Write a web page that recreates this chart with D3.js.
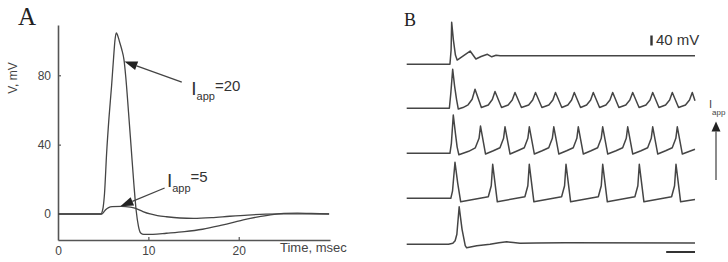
<!DOCTYPE html>
<html><head><meta charset="utf-8">
<script src="https://cdn.jsdelivr.net/npm/d3@7"></script>
<style>body{margin:0;background:#fff}svg{display:block}</style>
</head><body>
<svg id="c" width="728" height="262"></svg>
<script>
// ---------- Panel A data (time ms, voltage mV) ----------
const aXTicks = [0, 10, 20];
const aYTicks = [0, 40, 80];
const iapp20 = [[0,0],[4.75,0],[4.9,1.5],[5.0,4],[5.15,12],[5.38,35],[5.65,56],[5.93,74],[6.15,90],[6.3,100],[6.45,104.5],
  [6.6,103],[6.8,99.5],[7.05,95],[7.3,89],[7.5,79],[7.8,59],[8.1,38],[8.4,17],[8.65,2],[8.9,-7],[9.15,-11],[9.5,-11.8],[10.5,-11.7],[12,-11.1],
  [14,-10.2],[16,-8.8],[18,-6.6],[19.3,-5],[20.5,-3.4],[22,-1.8],[23.5,-0.5],[25,0.3],[26.5,0.5],[28,0.3],[30,0.1]];
const iapp5 = [[0,0],[4.85,0],[5.05,1],[5.3,2.6],[5.6,3.7],[6.0,4.2],[7.0,4.4],[8.0,4.0],[8.6,3.2],[9.4,1.4],[10.2,0],
  [11,-0.9],[12,-1.6],[13.5,-2.3],[15,-2.5],[17,-2.1],[19,-1.3],[21,-0.6],[23,-0.1],[25,0.1],[30,0]];
const aLabels = [
  {value:"20", tip:[7.35,88], tail:[13.7,76], at:[14.75,68.6]},
  {value:"5",  tip:[6.9,4.4], tail:[11.8,15], at:[12.05,15.6]}
];

// ---------- Panel B data (time units, mV relative to rest) ----------
const bTrace1 = [[0,0],[15.0,0],[15.4,57],[15.6,168],[16.2,97],[16.9,37],[17.5,17],[19.5,33],[22.0,53],[23.0,37],[24.0,21],
  [25.8,31],[28.0,40],[29.5,30],[31.0,36],[32.4,34],[35.8,34],[100,34]];
const bTrace2 = [[0,0],[14.8,0],[15.3,60],[15.95,156],[16.6,90],[17.3,35],[17.9,-3],[19.5,3],[21.3,14],[22.7,36],[23.7,76],
  [25.9,3],[28.3,13],[29.7,35],[30.63,67],
  [32.9,3],[35.2,13],[36.6,33],[37.57,63],
  [39.8,3],[42.3,13],[43.7,33],[44.68,63],
  [46.9,3],[49.3,13],[50.7,33],[51.61,63],
  [53.8,3],[55.9,13],[57.2,33],[58.13,63],
  [60.3,3],[62.4,13],[63.8,33],[64.72,63],
  [66.9,3],[69.1,13],[70.5,33],[71.45,63],
  [73.6,3],[76.0,13],[77.4,33],[78.39,63],
  [80.6,3],[83.0,13],[84.4,33],[85.33,63],
  [87.5,3],[89.8,13],[91.2,33],[92.13,63],
  [94.3,3],[96.7,13],[98.1,33],[99.06,63],[100,30]];
const bTrace3 = [[0,0],[15.0,0],[15.5,40],[16.16,153],[16.9,80],[17.5,25],[18.1,-6],[21.5,8],[23.8,22],[25.1,60],[25.6,109],
  [27.35,-3],[30.05,10],[32.35,22],[33.6,60],[34.1,106],
  [35.85,-3],[38.48,10],[40.78,22],[42.03,60],[42.53,106],
  [44.28,-3],[46.97,10],[49.27,22],[50.52,60],[51.02,106],
  [52.77,-3],[55.47,10],[57.77,22],[59.02,60],[59.52,106],
  [61.27,-3],[63.93,10],[66.23,22],[67.48,60],[67.98,106],
  [69.73,-3],[72.61,10],[74.91,22],[76.16,60],[76.66,106],
  [78.41,-3],[81.28,10],[83.58,22],[84.83,60],[85.33,106],
  [87.08,-3],[89.81,10],[92.11,22],[93.36,60],[93.86,106],
  [95.61,-3],[100,16]];
const bTrace4 = [[0,0],[15.3,0],[15.9,30],[16.75,144],[17.7,60],[18.73,-14],[28.3,6],[29.33,50],[29.83,136],
  [31.43,-14],[40.99,6],[42.02,50],[42.52,136],
  [44.12,-14],[53.73,6],[54.76,50],[55.26,136],
  [56.86,-14],[66.46,6],[67.49,50],[67.99,136],
  [69.59,-14],[79.15,6],[80.18,50],[80.68,136],
  [82.28,-14],[91.88,6],[92.91,50],[93.41,136],
  [95.01,-14],[100,-5]];
const bTrace5 = [[0,0],[14.5,0],[16.0,4],[16.8,14],[17.4,40],[18.2,150],[19.2,60],[20.3,-5],[20.8,-14],[24.3,-6],[28.9,0],
  [32,6],[34.7,10],[37,7],[39.3,4],[45,5],[55,6],[100,5]];
const bTraces = [bTrace1, bTrace2, bTrace3, bTrace4, bTrace5];
const bScaleV = 40;   // mV scale bar
const bScaleT = 10;   // time scale bar

// ---------- Drawing ----------
const svg = d3.select("#c");
const ink = "#454545";
const font = "Liberation Sans, Arial, sans-serif";

// Panel A
const xA = d3.scaleLinear().domain([0, 30.1]).range([58, 330]);
const yA = d3.scaleLinear().domain([-15, 109]).range([240, 25]);
const gA = svg.append("g");

const axX = gA.append("g").attr("transform", "translate(0,240)")
  .call(d3.axisBottom(xA).tickValues(aXTicks).tickSizeInner(-3).tickSizeOuter(0).tickPadding(6));
const axY = gA.append("g").attr("transform", "translate(58,0)")
  .call(d3.axisLeft(yA).tickValues(aYTicks).tickSizeInner(-3).tickSizeOuter(0).tickPadding(7));
[axX, axY].forEach(a => {
  a.select(".domain").attr("stroke", "#555").attr("stroke-width", 1.6);
  a.selectAll(".tick line").attr("stroke", "#555").attr("stroke-width", 1.2);
  a.selectAll(".tick text").attr("fill", "#444").style("font-family", font).style("font-size", "12px");
});
axY.selectAll(".tick").filter(d => d === 0).select("line").remove();
axX.selectAll(".tick").filter(d => d === 0).select("line").remove();

gA.append("text").attr("transform", "translate(17,78) rotate(-90)").attr("text-anchor", "middle")
  .style("font-family", font).style("font-size", "12px").attr("fill", "#444").text("V, mV");
gA.append("text").attr("x", 280).attr("y", 252).style("font-family", font).style("font-size", "13px")
  .attr("fill", "#444").text("Time, msec");
svg.append("text").attr("x", 18).attr("y", 25).style("font-family", "Liberation Serif, Times New Roman, serif")
  .style("font-size", "25px").attr("fill", "#222").text("A");

const lineA = d3.line().x(d => xA(d[0])).y(d => yA(d[1])).curve(d3.curveMonotoneX);
[iapp20, iapp5].forEach(s => gA.append("path").attr("d", lineA(s)).attr("fill", "none")
  .attr("stroke", ink).attr("stroke-width", 1.3));

function arrow(g, x1, y1, x2, y2, len, hw, color, sw) {
  const dx = x2 - x1, dy = y2 - y1, L = Math.hypot(dx, dy);
  const ux = dx / L, uy = dy / L;
  const bx = x2 - ux * len, by = y2 - uy * len;
  g.append("line").attr("x1", x1).attr("y1", y1).attr("x2", bx).attr("y2", by)
    .attr("stroke", color).attr("stroke-width", sw);
  g.append("path").attr("d", `M${x2},${y2}L${bx - uy * hw},${by + ux * hw}L${bx + uy * hw},${by - ux * hw}Z`)
    .attr("fill", "#222");
}
aLabels.forEach(l => {
  arrow(gA, xA(l.tail[0]), yA(l.tail[1]), xA(l.tip[0]), yA(l.tip[1]), 13, 4.5, "#444", 1.3);
  const t = gA.append("text").attr("x", xA(l.at[0])).attr("y", yA(l.at[1]))
    .style("font-family", font).attr("fill", "#333");
  t.append("tspan").style("font-size", "19px").text("I");
  t.append("tspan").style("font-size", "11px").attr("dy", 5).text("app");
  t.append("tspan").style("font-size", "15px").attr("dy", -9.5).text("=" + l.value);
});

// Panel B
const xB = d3.scaleLinear().domain([0, 100]).range([406.7, 695]);
const bBase = [64.3, 108.3, 153.3, 198.3, 244.3];
const gB = svg.append("g");
svg.append("text").attr("x", 404).attr("y", 25.5).style("font-family", "Liberation Serif, Times New Roman, serif")
  .style("font-size", "18px").attr("fill", "#222").text("B");
bTraces.forEach((tr, i) => {
  const yB = d3.scaleLinear().domain([0, 40]).range([bBase[i], bBase[i] - 10]);
  const ln = d3.line().x(d => xB(d[0])).y(d => yB(d[1]));
  gB.append("path").attr("d", ln(tr)).attr("fill", "none").attr("stroke", ink)
    .attr("stroke-width", 1.5).attr("stroke-linejoin", "round");
});
// voltage scale bar
const yBar = d3.scaleLinear().domain([0, 40]).range([45.5, 35.5]);
gB.append("line").attr("x1", 651.5).attr("x2", 651.5).attr("y1", yBar(0)).attr("y2", yBar(bScaleV))
  .attr("stroke", "#333").attr("stroke-width", 2.4);
gB.append("text").attr("x", 656).attr("y", 45).style("font-family", font).style("font-size", "15px")
  .attr("fill", "#333").text(bScaleV + " mV");
// time scale bar
gB.append("line").attr("x1", xB(100 - bScaleT)).attr("x2", xB(100)).attr("y1", 252).attr("y2", 252)
  .attr("stroke", "#333").attr("stroke-width", 2);
// Iapp arrow
const t2 = gB.append("text").attr("x", 709).attr("y", 108).style("font-family", font).attr("fill", "#444");
t2.append("tspan").style("font-size", "11px").text("I");
t2.append("tspan").style("font-size", "8px").attr("dy", 7).text("app");
arrow(gB, 716, 180, 716, 121.5, 10, 4.5, "#666", 1.5);
</script>
</body></html>
